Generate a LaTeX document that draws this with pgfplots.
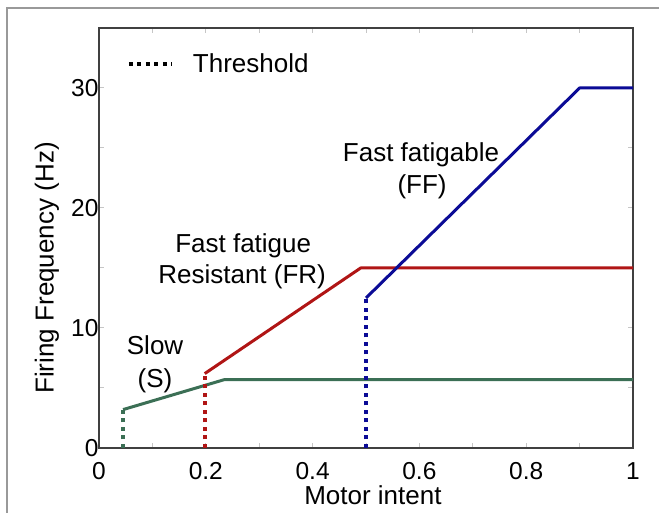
\documentclass[border=0pt]{standalone}
\usepackage{fontspec}
\setmainfont{Liberation Sans}
\usepackage{pgfplots}
\pgfplotsset{compat=1.18}
\definecolor{cS}{HTML}{3B6F55}
\definecolor{cFR}{HTML}{B01515}
\definecolor{cFF}{HTML}{0B0B96}
\definecolor{axgray}{HTML}{404040}
\begin{document}
\begin{tikzpicture}
\useasboundingbox (-99pt,-65pt) rectangle (560pt,448pt);
\draw[gray!80, line width=1.3pt] (-92pt,-66pt) -- (-92pt,440pt) -- (561pt,440pt);
\begin{axis}[
  at={(0pt,0pt)}, anchor=south west,
  width=534pt, height=420pt, scale only axis,
  xmin=0, xmax=1, ymin=0, ymax=35,
  xtick={0,0.2,0.4,0.6,0.8,1},
  xticklabels={0,0.2,0.4,0.6,0.8,1},
  ytick={0,10,20,30},
  minor x tick num=1, minor y tick num=1,
  tick align=inside,
  major tick length=5pt, minor tick length=5pt,
  tick style={color=gray!45, line width=1pt},
  axis line style={draw=axgray, line width=1.8pt},
  /pgf/number format/assume math mode=true,
  ticklabel style={font=\fontsize{24.5}{28}\selectfont, text=black},
  xticklabel style={yshift=-11pt},
  yticklabel style={xshift=3pt},
  label style={font=\fontsize{26}{30}\selectfont},
  xlabel={Motor intent},
  ylabel={Firing Frequency (Hz)},
  xlabel style={at={(rel axis cs:0.513,-0.1357)}, anchor=base},
  ylabel style={at={(rel axis cs:-0.0974,0.4286)}, anchor=center},
  legend style={draw=none, fill=none, font=\fontsize{26}{30}\selectfont,
    at={(axis cs:0.052,32.0)}, anchor=west, inner sep=0pt,
    nodes={inner sep=0pt}, column sep=19pt},
  legend image code/.code={\draw[#1] (0pt,0pt) -- (43pt,0pt);},
  clip=true,
]
\addlegendimage{black, line width=4pt, dash pattern=on 4pt off 4.5pt}
\addlegendentry{Threshold}
% Slow (S)
\addplot[forget plot, cS, line width=4pt, dash pattern=on 4pt off 4.5pt] coordinates {(0.045,0) (0.045,3.2)};
\addplot[forget plot, cS, line width=3pt, line join=round] coordinates {(0.045,3.2) (0.235,5.7) (1,5.7)};
% Fast fatigue resistant (FR)
\addplot[forget plot, cFR, line width=4pt, dash pattern=on 4pt off 4.5pt] coordinates {(0.198,0) (0.198,6.2)};
\addplot[forget plot, cFR, line width=3pt, line join=round] coordinates {(0.198,6.2) (0.49,15) (1,15)};
% Fast fatigable (FF)
\addplot[forget plot, cFF, line width=4pt, dash pattern=on 4pt off 4.5pt] coordinates {(0.5,0) (0.5,12.5)};
\addplot[forget plot, cFF, line width=3pt, line join=round] coordinates {(0.5,12.5) (0.9,30) (1,30)};
\node[anchor=base, font=\fontsize{26}{30}\selectfont] at (axis cs:0.603,23.9) {Fast fatigable};
\node[anchor=base, font=\fontsize{26}{30}\selectfont] at (axis cs:0.605,21.2) {(FF)};
\node[anchor=base, font=\fontsize{26}{30}\selectfont] at (axis cs:0.270,16.3) {Fast fatigue};
\node[anchor=base, font=\fontsize{26}{30}\selectfont] at (axis cs:0.268,13.7) {Resistant (FR)};
\node[anchor=base, font=\fontsize{26}{30}\selectfont] at (axis cs:0.105,7.81) {Slow};
\node[anchor=base, font=\fontsize{26}{30}\selectfont] at (axis cs:0.105,5.07) {(S)};
\end{axis}
\end{tikzpicture}
\end{document}
